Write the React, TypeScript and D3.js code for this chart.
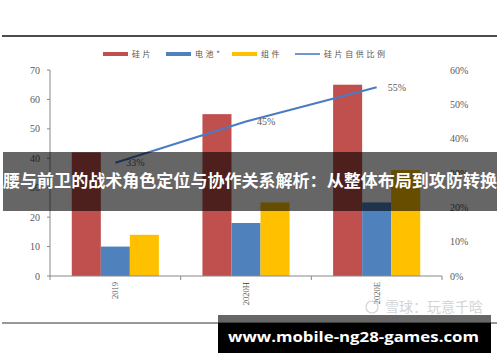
import React from "react";
import * as d3 from "d3";

const categories = ["2019", "2020H", "2020E"];
const seriesNames = ["硅片", "电池*", "组件"];
const siliconWafer = [42, 55, 65];
const cell = [10, 18, 25];
const module_ = [14, 25, 36];
const selfSupplyRatio = [0.33, 0.45, 0.55];
const lineName = "硅片自供比例";
const leftTicks = [0, 10, 20, 30, 40, 50, 60, 70];
const rightTicks = [0, 0.1, 0.2, 0.3, 0.4, 0.5, 0.6];
const colors = ["#C0504D", "#4F81BD", "#FFC000"];
const lineColor = "#4A7BC4";
const bannerText = "腰与前卫的战术角色定位与协作关系解析：从整体布局到攻防转换";
const siteText = "www.mobile-ng28-games.com";
const watermark = "雪球：玩意千晗";

export default function App() {
  const W = 500, H = 362;
  const left = 50, right = 442, top = 70, bottom = 276;
  const x0 = d3.scaleBand<string>().domain(categories).range([left, right]).padding(0);
  const x1 = d3.scaleBand<string>().domain(seriesNames).range([0, x0.bandwidth()]).paddingInner(0).paddingOuter(0.75);
  const yL = d3.scaleLinear().domain([0, 70]).range([bottom, top]);
  const yR = d3.scaleLinear().domain([0, 0.6]).range([bottom, top]);
  const data = [siliconWafer, cell, module_];
  const cx = (c: string) => (x0(c) as number) + x0.bandwidth() / 2;
  const line = d3.line<number>().x((_, i) => cx(categories[i])).y((d) => yR(d));
  const serif = "'Liberation Serif', 'DejaVu Serif', serif";
  const cjk = "'Noto Sans CJK SC', sans-serif";
  const legendItems = [
    { x: 103, label: seriesNames[0], color: colors[0], type: "rect" },
    { x: 166, label: seriesNames[1], color: colors[1], type: "rect" },
    { x: 232, label: seriesNames[2], color: colors[2], type: "rect" },
    { x: 295, label: lineName, color: lineColor, type: "line" },
  ];
  const boundaries = [left, ...categories.map((c) => (x0(c) as number) + x0.bandwidth())];
  return (
    <svg width={W} height={H} style={{ position: "absolute", left: 0, top: 0, background: "#fff" }}>
      <rect x={0} y={0} width={W} height={H} fill="#fff" />
      <line x1={2} x2={497} y1={36} y2={36} stroke="#111" strokeWidth={1.6} />
      <line x1={2} x2={497} y1={323} y2={323} stroke="#333" strokeWidth={1.2} />
      {/* legend */}
      {legendItems.map((it, i) => (
        <g key={i}>
          {it.type === "rect" ? (
            <rect x={it.x} y={52} width={25} height={4} fill={it.color} />
          ) : (
            <line x1={it.x} x2={it.x + 25} y1={54} y2={54} stroke={it.color} strokeWidth={1.6} />
          )}
          <text x={it.x + 29} y={57} fontSize={8} fontFamily={cjk} fill="#555" letterSpacing={2.6}>
            {it.label}
          </text>
        </g>
      ))}
      {/* bars */}
      {data.map((vals, si) =>
        vals.map((v, ci) => (
          <rect
            key={`${si}-${ci}`}
            x={(x0(categories[ci]) as number) + (x1(seriesNames[si]) as number)}
            y={yL(v)}
            width={x1.bandwidth()}
            height={bottom - yL(v)}
            fill={colors[si]}
          />
        ))
      )}
      {/* axes */}
      <line x1={left} x2={left} y1={top} y2={bottom} stroke="#888" strokeWidth={1} />
      {leftTicks.map((t) => (
        <g key={t}>
          <line x1={left - 3} x2={left} y1={yL(t)} y2={yL(t)} stroke="#888" />
          <text x={40} y={yL(t) + 3.5} fontSize={10} textAnchor="end" fontFamily={serif} fill="#595959">
            {t}
          </text>
        </g>
      ))}
      <line x1={left} x2={right} y1={bottom} y2={bottom} stroke="#888" strokeWidth={1} />
      {boundaries.map((b, i) => (
        <line key={i} x1={b} x2={b} y1={bottom} y2={bottom + 4} stroke="#888" />
      ))}
      {rightTicks.map((t) => (
        <text key={t} x={450} y={yR(t) + 3.5} fontSize={10} fontFamily={serif} fill="#595959">
          {`${Math.round(t * 100)}%`}
        </text>
      ))}
      {categories.map((c) => (
        <text
          key={c}
          transform={`translate(${cx(c) + 3},282) rotate(-90)`}
          textAnchor="end"
          fontSize={8.5}
          fontFamily={serif}
          fill="#595959"
        >
          {c}
        </text>
      ))}
      {/* line */}
      <path d={line(selfSupplyRatio) || ""} fill="none" stroke={lineColor} strokeWidth={2} />
      {selfSupplyRatio.map((v, i) => (
        <text key={i} x={cx(categories[i]) + 11} y={yR(v) + 3.5} fontSize={10} fontFamily={serif} fill="#595959">
          {`${Math.round(v * 100)}%`}
        </text>
      ))}
      {/* watermark */}
      <g opacity={0.5}>
        <circle cx={372} cy={307} r={6} fill="none" stroke="#aaa" strokeWidth={1.2} />
        <text x={385} y={312} fontSize={14} fontFamily={cjk} fill="#aaa">
          {watermark}
        </text>
      </g>
      {/* banner */}
      <rect x={3} y={152} width={494} height={59} fill="#000" opacity={0.6} />
      <text
        x={250}
        y={187}
        textAnchor="middle"
        fontSize={16.5}
        fontWeight="bold"
        fontFamily={cjk}
        fill="#fff"
        textLength={494}
        lengthAdjust="spacingAndGlyphs"
      >
        {bannerText}
      </text>
      {/* site box */}
      <rect x={218} y={315} width={273} height={8} fill="#000" opacity={0.6} />
      <rect x={218} y={323} width={273} height={30} fill="#000" />
      <text
        x={353.5}
        y={342}
        textAnchor="middle"
        fontSize={15}
        fontWeight="bold"
        fontFamily="'Open Sans', 'DejaVu Sans', sans-serif"
        fill="#fff"
        textLength={251}
        lengthAdjust="spacingAndGlyphs"
      >
        {siteText}
      </text>
    </svg>
  );
}
